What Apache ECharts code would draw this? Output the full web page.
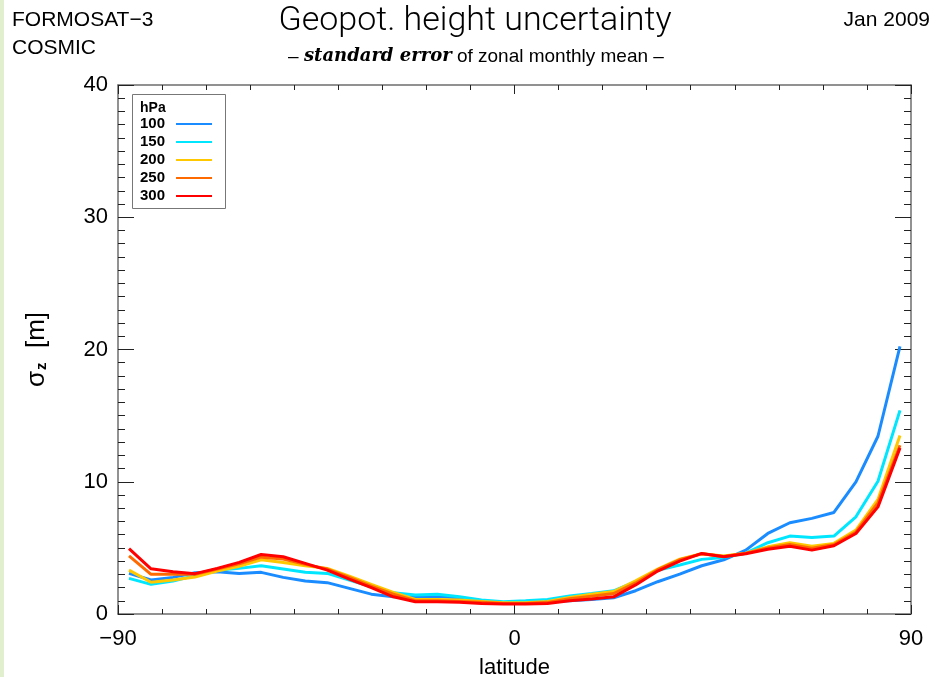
<!DOCTYPE html>
<html>
<head>
<meta charset="utf-8">
<script src="https://cdn.jsdelivr.net/npm/echarts@6/dist/echarts.min.js"></script>
<style>
  html, body { margin: 0; padding: 0; background: #fff; }
  #chart { width: 941px; height: 677px; }
</style>
</head>
<body>
<div id="chart"></div>
<script>
// Zonal-band centre latitudes (5 degree bands)
const latitudes = [
  -87.5, -82.5, -77.5, -72.5, -67.5, -62.5, -57.5, -52.5, -47.5, -42.5, -37.5, -32.5,
  -27.5, -22.5, -17.5, -12.5, -7.5, -2.5, 2.5, 7.5, 12.5, 17.5, 22.5, 27.5,
  32.5, 37.5, 42.5, 47.5, 52.5, 57.5, 62.5, 67.5, 72.5, 77.5, 82.5, 87.5
];

// Standard error of the zonal monthly mean geopotential height [m], per pressure level
const sigma100 = [
  3.07, 2.57, 2.77, 3.12, 3.20, 3.07, 3.15, 2.77, 2.50, 2.37, 1.94, 1.50,
  1.30, 1.26, 1.35, 1.20, 0.95, 0.85, 0.90, 0.96, 1.00, 1.10, 1.23, 1.76,
  2.44, 3.02, 3.65, 4.10, 4.83, 6.09, 6.90, 7.23, 7.68, 9.99, 13.44, 20.24
];
const sigma150 = [
  2.69, 2.24, 2.50, 2.90, 3.30, 3.45, 3.65, 3.40, 3.15, 3.07, 2.57, 2.06,
  1.60, 1.43, 1.49, 1.31, 1.06, 0.93, 1.00, 1.10, 1.36, 1.55, 1.75, 2.45,
  3.30, 3.70, 4.13, 4.28, 4.60, 5.39, 5.89, 5.79, 5.89, 7.35, 10.04, 15.40
];
const sigma200 = [
  3.32, 2.40, 2.57, 2.80, 3.25, 3.60, 4.10, 3.90, 3.65, 3.45, 2.87, 2.24,
  1.64, 1.10, 1.10, 1.05, 0.95, 0.85, 0.85, 0.95, 1.25, 1.50, 1.70, 2.50,
  3.40, 4.15, 4.55, 4.38, 4.60, 5.08, 5.39, 5.13, 5.34, 6.34, 8.66, 13.50
];
const sigma250 = [
  4.40, 3.00, 3.00, 3.00, 3.40, 3.80, 4.30, 4.15, 3.75, 3.40, 2.77, 2.10,
  1.50, 1.00, 1.00, 0.95, 0.88, 0.80, 0.80, 0.88, 1.15, 1.35, 1.55, 2.35,
  3.35, 4.10, 4.55, 4.35, 4.60, 5.00, 5.25, 4.98, 5.25, 6.20, 8.40, 12.76
];
const sigma300 = [
  4.95, 3.42, 3.20, 3.05, 3.45, 3.90, 4.50, 4.33, 3.83, 3.32, 2.64, 1.99,
  1.30, 0.93, 0.93, 0.88, 0.80, 0.75, 0.75, 0.80, 1.00, 1.13, 1.30, 2.20,
  3.25, 4.00, 4.58, 4.33, 4.55, 4.90, 5.13, 4.83, 5.16, 6.09, 8.10, 12.56
];

const levels = ['100', '150', '200', '250', '300'];
const levelData = [sigma100, sigma150, sigma200, sigma250, sigma300];
const levelColors = ['#1a8cff', '#00e6ff', '#ffc800', '#ff6a00', '#ff0000'];

const FONT = 'Liberation Sans, Arial, sans-serif';
const frameColor = '#6e6e6e';
const tickColor = '#222';

const minusLabel = v => (v < 0 ? '\u2212' + (-v) : String(v));

function xAxisCfg(pos, showLabels) {
  return {
    type: 'value', position: pos, min: -90, max: 90, interval: 90,
    axisLine: { show: true, onZero: false, lineStyle: { color: frameColor, width: 1.5 } },
    axisTick: { show: true, inside: true, length: 9, lineStyle: { color: tickColor, width: 1 } },
    minorTick: { show: true, splitNumber: 9, length: 5, lineStyle: { color: tickColor, width: 1 } },
    splitLine: { show: false },
    axisLabel: showLabels
      ? { show: true, formatter: minusLabel, fontSize: 22, color: '#000', fontFamily: FONT, margin: 14 }
      : { show: false },
    name: showLabels ? 'latitude' : '',
    nameLocation: 'middle', nameGap: 43,
    nameTextStyle: { fontSize: 22, color: '#000', fontFamily: FONT }
  };
}

function yAxisCfg(pos, showLabels) {
  return {
    type: 'value', position: pos, min: 0, max: 40, interval: 10,
    axisLine: { show: true, onZero: false, lineStyle: { color: frameColor, width: 1.5 } },
    axisTick: { show: true, inside: true, length: 16, lineStyle: { color: tickColor, width: 1 } },
    minorTick: { show: true, splitNumber: 10, length: 7, lineStyle: { color: tickColor, width: 1 } },
    splitLine: { show: false },
    axisLabel: showLabels
      ? { show: true, fontSize: 22, color: '#000', fontFamily: FONT, margin: 10 }
      : { show: false },
    name: showLabels ? '{s|\u03c3}{z|z}{s|  [m]}' : '',
    nameLocation: 'middle', nameGap: 68, nameRotate: 90,
    nameTextStyle: {
      fontFamily: FONT, color: '#000',
      rich: {
        s: { fontSize: 26, fontFamily: FONT, color: '#000' },
        z: { fontSize: 15, fontFamily: FONT, color: '#000', fontWeight: 'bold', padding: [10, 0, 0, 1] }
      }
    }
  };
}

const chart = echarts.init(document.getElementById('chart'), null, { renderer: 'canvas' });

const headStyle = { fontSize: 21, fontWeight: 'normal', color: '#000', fontFamily: FONT };

chart.setOption({
  backgroundColor: '#ffffff',
  animation: false,
  title: [
    { text: 'FORMOSAT\u22123', left: 12, top: 10, padding: 0, textStyle: headStyle },
    { text: 'COSMIC', left: 12, top: 38, padding: 0, textStyle: headStyle },
    { text: 'Jan 2009', right: 11, top: 10, padding: 0, textStyle: headStyle },
    { text: 'Geopot. height uncertainty', left: 475, textAlign: 'center', top: 4, padding: 0,
      textStyle: { fontSize: 34, fontWeight: 300, color: '#000', fontFamily: 'Roboto, ' + FONT } },
    { text: '{n|\u2013 }{b|standard error}{n| of zonal monthly mean \u2013}', left: 476, textAlign: 'center', top: 47, padding: 0,
      textStyle: {
        fontWeight: 'normal',
        rich: {
          n: { fontSize: 19, fontWeight: 'normal', color: '#000', fontFamily: FONT },
          b: { fontSize: 18, color: '#000', fontFamily: 'DejaVu Serif, serif', fontWeight: 'bold', fontStyle: 'italic' }
        }
      } }
  ],
  graphic: [
    { type: 'rect', left: 0, top: 0, shape: { width: 4, height: 677 }, style: { fill: '#e1efcf' }, silent: true },
    { type: 'rect', left: 132, top: 94, shape: { width: 93, height: 114 },
      style: { fill: '#fff', stroke: '#777', lineWidth: 1 }, z: 5, silent: true },
    { type: 'text', left: 140, top: 101, style: { text: 'hPa', fontSize: 14, fontWeight: 'bold', fill: '#000', fontFamily: FONT }, z: 6 }
  ],
  legend: {
    orient: 'vertical', left: 140, top: 115, padding: 0, itemGap: 0,
    align: 'right', itemWidth: 36, itemHeight: 14, z: 10,
    icon: 'path://M0,6 L36,6 L36,8 L0,8 Z',
    textStyle: { fontSize: 15, fontWeight: 'bold', color: '#000', fontFamily: FONT, lineHeight: 18, padding: [0, 6, 0, 0] },
    data: levels
  },
  grid: { left: 118, right: 30, top: 85, bottom: 63, containLabel: false, outerBoundsMode: 'none' },
  xAxis: [xAxisCfg('bottom', true), xAxisCfg('top', false)],
  yAxis: [yAxisCfg('left', true), yAxisCfg('right', false)],
  series: levels.map((lvl, k) => ({
    name: lvl,
    type: 'line',
    xAxisIndex: 0, yAxisIndex: 0,
    data: latitudes.map((lat, i) => [lat, levelData[k][i]]),
    symbol: 'none',
    color: levelColors[k],
    lineStyle: { width: 3, color: levelColors[k] },
    z: 2 + k
  }))
});
</script>
</body>
</html>
